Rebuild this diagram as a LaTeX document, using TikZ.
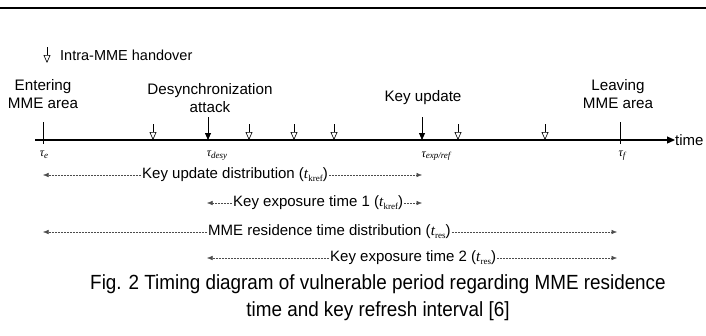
\documentclass[tikz,border=0pt]{standalone}
\usepackage{fontspec}
\setmainfont{Liberation Sans}
\newfontfamily\capfont[FakeStretch=0.92]{Liberation Sans}
\newfontfamily\taufont{Liberation Serif}
\newcommand{\tsub}[1]{\textit{\taufont t}\raisebox{-2.5pt}{\taufont\fontsize{9}{10}\selectfont #1}}
\usetikzlibrary{arrows.meta}
\begin{document}
\begin{tikzpicture}[x=1pt,y=-1pt,
  lbl/.style={font=\fontsize{15.2}{18}\selectfont, align=center, inner sep=0pt},
  rowtxt/.style={font=\fontsize{15}{17}\selectfont, inner sep=1pt, anchor=west},
  taulbl/.style={font=\taufont\itshape\fontsize{12}{13}\selectfont, inner sep=0pt},
  hollowarr/.style={line width=0.6pt, -{Triangle[open, length=8pt, width=7pt]}},
  fillarr/.style={line width=0.8pt, -{Triangle[length=7pt, width=6pt]}},
  tickln/.style={line width=0.6pt},
  span/.style={line width=0.5pt, dash pattern=on 2pt off 1pt, -{Latex[length=5.5pt, width=4.5pt]}, black!70}
]
\useasboundingbox (0,0) rectangle (706,335);
\fill[white] (0,0) rectangle (706,335);
% top rule
\coordinate (rl) at (0,8); \coordinate (rr) at (706,8);
\draw[line width=2.2pt] (rl) -- (rr);
% legend
\coordinate (lgA) at (47,47); \coordinate (lgB) at (47,63);
\draw[hollowarr] (lgA) -- (lgB);
\node[font=\fontsize{14.5}{16}\selectfont, anchor=west, inner sep=0pt] (lgt) at (60,55) {Intra-MME handover};
% axis
\coordinate (ax0) at (35,140); \coordinate (ax1) at (675,140);
\draw[line width=1.2pt, -{Triangle[length=8pt, width=7pt]}] (ax0) -- (ax1);
\node[font=\fontsize{15}{16}\selectfont, anchor=west, inner sep=0pt] (time) at (ax1) {time};
% ticks
\coordinate (teT) at (43,122); \coordinate (teB) at (43,144);
\draw[tickln] (teT) -- (teB);
\coordinate (tfT) at (620,122); \coordinate (tfB) at (620,144);
\draw[tickln] (tfT) -- (tfB);
% filled arrows
\coordinate (dsT) at (208,117); \coordinate (dsB) at (208,140);
\draw[fillarr] (dsT) -- (dsB);
\coordinate (kuT) at (422,117); \coordinate (kuB) at (422,140);
\draw[fillarr] (kuT) -- (kuB);
% hollow arrows
\foreach \n/\x in {h1/153,h2/249,h3/294,h4/334,h5/458,h6/545}{
  \coordinate (\n T) at (\x,124); \coordinate (\n B) at (\x,140);
  \draw[hollowarr] (\n T) -- (\n B);
}
% upper labels
\node[lbl] (enter) at (43,94) {Entering\\MME area};
\node[lbl] (desync) at (210,98) {Desynchronization\\attack};
\node[lbl] (kupd) at (423,98) {Key update};
\node[lbl] (leave) at (618,94) {Leaving\\MME area};
% tau labels
\node[taulbl] (tau1) at (44,155) {τ\raisebox{-1.5pt}{\fontsize{9}{10}\selectfont e}};
\node[taulbl] (tau2) at (217,156) {τ\raisebox{-2pt}{\fontsize{9}{10}\selectfont desy}};
\node[taulbl] (tau3) at (436,156) {τ\raisebox{-1pt}{\fontsize{9}{10}\selectfont exp/ref}};
\node[taulbl] (tau4) at (622,156) {τ\raisebox{-2pt}{\fontsize{9}{10}\selectfont f}};
% span rows
\coordinate (L1) at (43,175); \coordinate (R1) at (422,175);
\node[rowtxt] (r1) at (141,175) {Key update distribution (\tsub{kref})};
\draw[span] (r1.west) -- (L1); \draw[span] (r1.east) -- (R1);
\coordinate (L2) at (207,203); \coordinate (R2) at (422,203);
\node[rowtxt] (r2) at (232,203) {Key exposure time 1 (\tsub{kref})};
\draw[span] (r2.west) -- (L2); \draw[span] (r2.east) -- (R2);
\coordinate (L3) at (43,232); \coordinate (R3) at (617,232);
\node[rowtxt] (r3) at (207,232) {MME residence time distribution (\tsub{res})};
\draw[span] (r3.west) -- (L3); \draw[span] (r3.east) -- (R3);
\coordinate (L4) at (207,258); \coordinate (R4) at (617,258);
\node[rowtxt] (r4) at (329,258) {Key exposure time 2 (\tsub{res})};
\draw[span] (r4.west) -- (L4); \draw[span] (r4.east) -- (R4);
% caption
\node[font=\capfont\fontsize{20.5}{27}\selectfont, align=center, inner sep=0pt] (cap) at (378,298)
  {Fig. 2 Timing diagram of vulnerable period regarding MME residence\\time and key refresh interval [6]};
\end{tikzpicture}
\end{document}
